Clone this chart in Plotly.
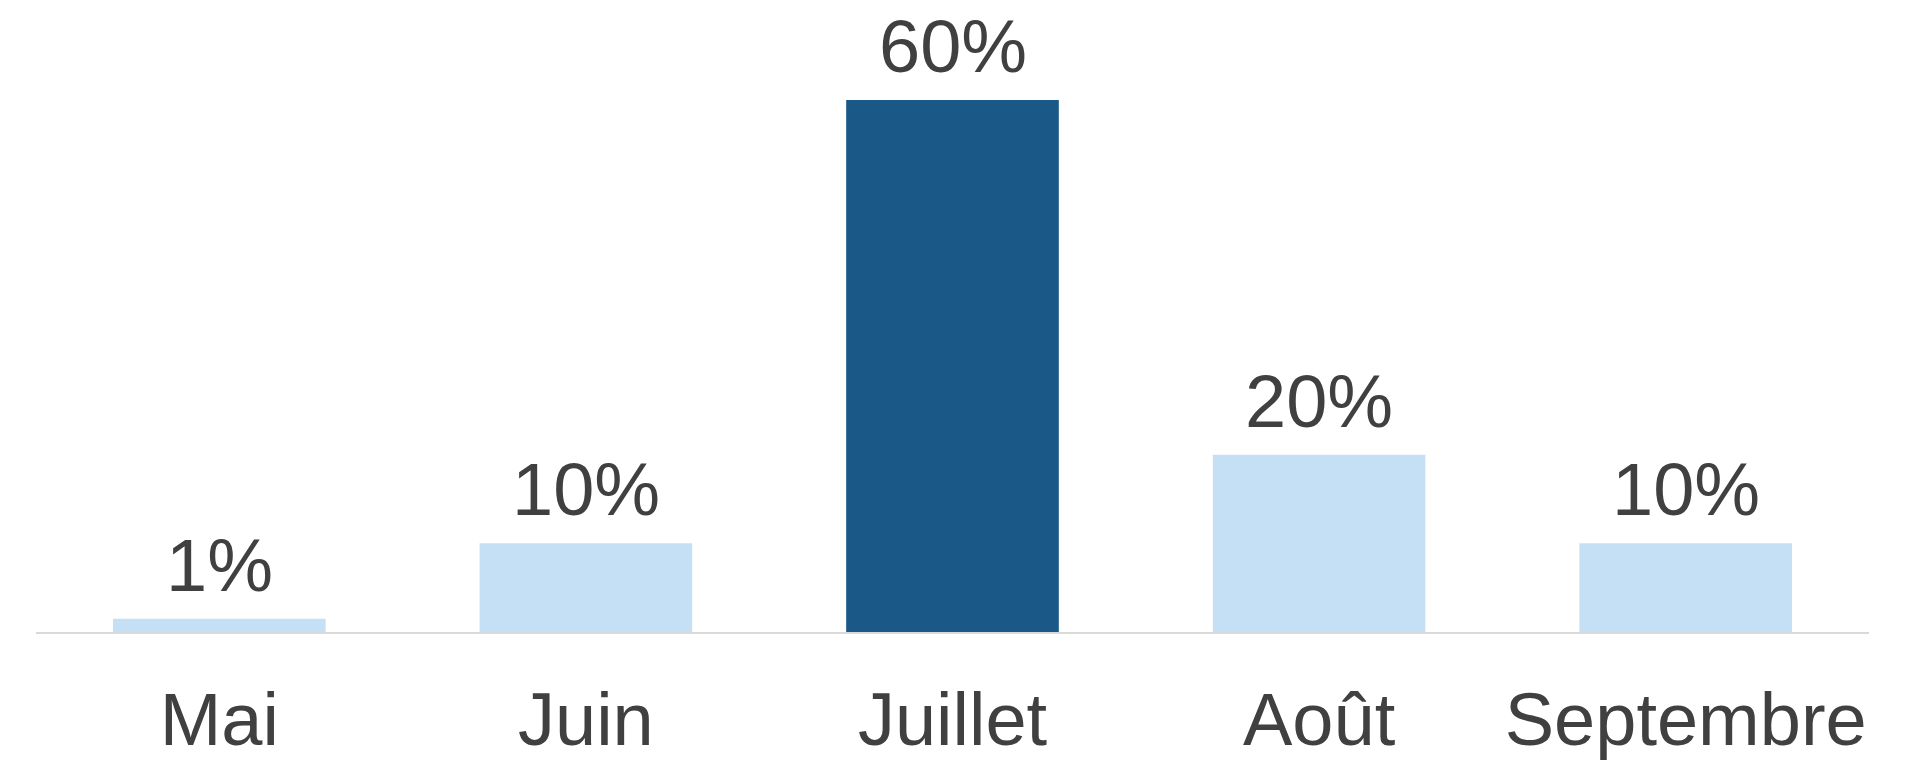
import plotly.graph_objects as go

months = ["Mai", "Juin", "Juillet", "Août", "Septembre"]
values = [1.5, 10, 60, 20, 10]
labels = ["1%", "10%", "60%", "20%", "10%"]
bar_colors = ["#C5DFF4", "#C5DFF4", "#1A5887", "#C5DFF4", "#C5DFF4"]

FONT = "Liberation Sans"
TEXT_COLOR = "#404040"

fig = go.Figure()
fig.add_trace(go.Bar(
    x=months, y=values,
    marker=dict(color=bar_colors, line=dict(width=0)),
    hoverinfo="skip",
))

for m, v, t in zip(months, values, labels):
    fig.add_annotation(
        x=m, y=v, text=t, showarrow=False,
        yanchor="bottom", xanchor="center", yshift=10,
        font=dict(family=FONT, size=74, color=TEXT_COLOR),
    )

fig.update_layout(
    width=1926, height=761,
    margin=dict(l=36, r=57, t=100, b=129),
    paper_bgcolor="white", plot_bgcolor="white",
    bargap=0.42,
    showlegend=False,
    font=dict(family=FONT, color=TEXT_COLOR),
)
fig.update_xaxes(
    showline=True, linecolor="#D9D9D9", linewidth=2,
    showgrid=False, zeroline=False, automargin=False,
    ticks="outside", ticklen=22, tickcolor="rgba(0,0,0,0)",
    tickfont=dict(family=FONT, size=74, color=TEXT_COLOR),
)
fig.update_yaxes(
    range=[0, 60], visible=False, showgrid=False, zeroline=False,
    automargin=False,
)

fig.write_html(
    "out.html",
    config={"displayModeBar": False, "staticPlot": True},
    post_script="document.body.style.margin='0';document.body.style.overflow='hidden';",
)
